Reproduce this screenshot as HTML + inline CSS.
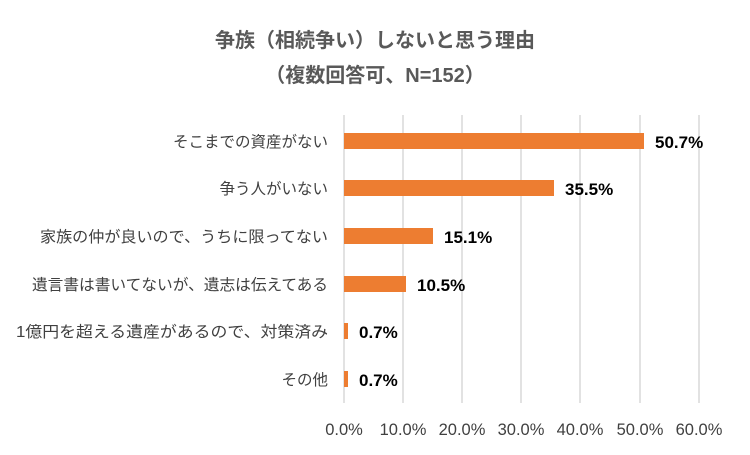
<!DOCTYPE html>
<html><head><meta charset="utf-8"><style>
body{margin:0;background:#fff;}
svg text{font-family:"Liberation Sans","Noto Sans CJK JP",sans-serif;}
</style></head><body>
<svg width="750" height="450" xmlns="http://www.w3.org/2000/svg">
<rect width="750" height="450" fill="#fff"/>
<text x="375" y="47" text-anchor="middle" font-size="20" font-weight="bold" fill="#595959">争族（相続争い）しないと思う理由</text>
<text x="375" y="82" text-anchor="middle" font-size="20" font-weight="bold" fill="#595959">（複数回答可、N=152）</text>
<g stroke="#d9d9d9" stroke-width="1.5">
<line x1="344" y1="115" x2="344" y2="403"/>
<line x1="403" y1="115" x2="403" y2="403"/>
<line x1="462" y1="115" x2="462" y2="403"/>
<line x1="521" y1="115" x2="521" y2="403"/>
<line x1="580" y1="115" x2="580" y2="403"/>
<line x1="640" y1="115" x2="640" y2="403"/>
<line x1="699" y1="115" x2="699" y2="403"/>
</g>
<g font-size="16.5" fill="#404040" text-anchor="middle">
<text x="344" y="435">0.0%</text><text x="403" y="435">10.0%</text><text x="462" y="435">20.0%</text><text x="521" y="435">30.0%</text><text x="580" y="435">40.0%</text><text x="640" y="435">50.0%</text><text x="699" y="435">60.0%</text>
</g>
<g fill="#ed7d31">
<rect x="344" y="133" width="300" height="16"/>
<rect x="344" y="180" width="210" height="16"/>
<rect x="344" y="228" width="89" height="16"/>
<rect x="344" y="276" width="62" height="16"/>
<rect x="344" y="323" width="4" height="16"/>
<rect x="344" y="371" width="4" height="16"/>
</g>
<g font-size="17" font-weight="bold" fill="#000">
<text x="655" y="148">50.7%</text>
<text x="565" y="195">35.5%</text>
<text x="444" y="243">15.1%</text>
<text x="417" y="291">10.5%</text>
<text x="359" y="338">0.7%</text>
<text x="359" y="386">0.7%</text>
</g>
<g font-size="15.5" fill="#404040" text-anchor="end">
<text x="328" y="147">そこまでの資産がない</text>
<text x="328" y="194">争う人がいない</text>
<text x="328" y="242" textLength="288" lengthAdjust="spacingAndGlyphs">家族の仲が良いので、うちに限ってない</text>
<text x="328" y="290" textLength="296" lengthAdjust="spacingAndGlyphs">遺言書は書いてないが、遺志は伝えてある</text>
<text x="328" y="337" textLength="312" lengthAdjust="spacingAndGlyphs">1億円を超える遺産があるので、対策済み</text>
<text x="328" y="385">その他</text>
</g>
</svg>
</body></html>
